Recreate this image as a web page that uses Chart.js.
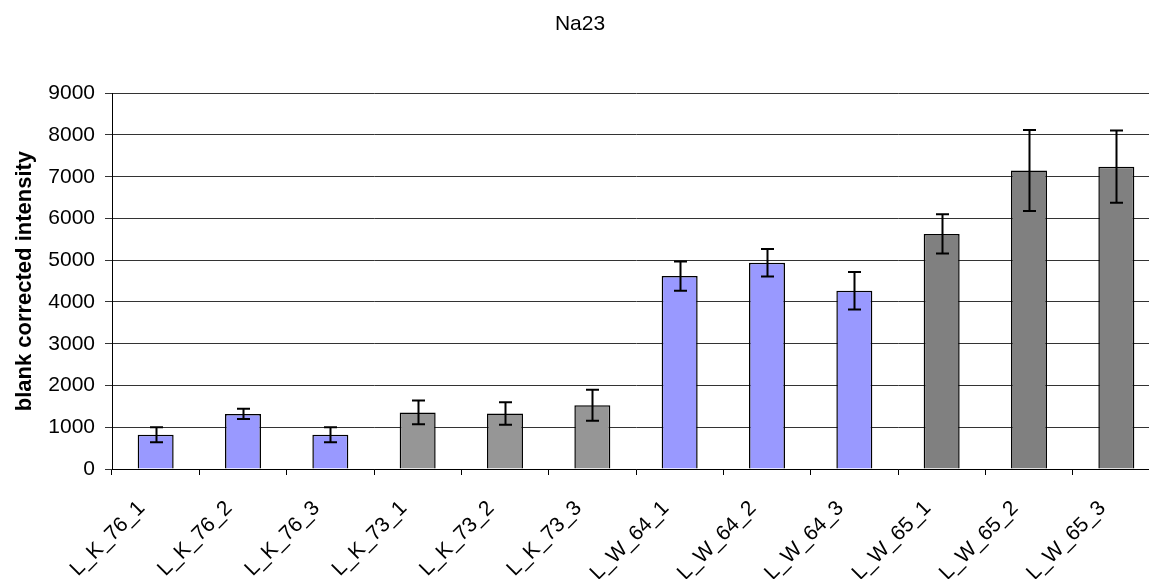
<!DOCTYPE html>
<html>
<head>
<meta charset="utf-8">
<title>Na23</title>
<script src="https://cdn.jsdelivr.net/npm/chart.js@4.4.1/dist/chart.umd.min.js"></script>
<style>
  html, body { margin: 0; padding: 0; background: #fff; overflow: hidden; }
  #wrap { width: 1160px; height: 620px; }
</style>
</head>
<body>
<div id="wrap"><canvas id="c" width="1160" height="620"></canvas></div>
<script>
// Samples, mean intensities and their standard deviations
const categories = ['L_K_76_1', 'L_K_76_2', 'L_K_76_3', 'L_K_73_1', 'L_K_73_2', 'L_K_73_3',
                    'L_W_64_1', 'L_W_64_2', 'L_W_64_3', 'L_W_65_1', 'L_W_65_2', 'L_W_65_3'];
const intensity = [820, 1320, 820, 1355, 1330, 1525, 4620, 4940, 4270, 5630, 7150, 7240];
const deviation = [180, 125, 180, 285, 270, 370, 350, 330, 450, 470, 970, 865];
const yTicks = [0, 1000, 2000, 3000, 4000, 5000, 6000, 7000, 8000, 9000];

// Fill colour for each sample series
const palette = {
  'L_K_76': '#9999FF',
  'L_K_73': '#969696',
  'L_W_64': '#9999FF',
  'L_W_65': '#808080'
};
const seriesOf = label => label.slice(0, label.lastIndexOf('_'));

const FONT = '"Liberation Sans", Arial, sans-serif';

// Vertical error bars with caps, drawn on top of each bar
const errorBars = {
  id: 'errorBars',
  afterDatasetsDraw(chart) {
    const { ctx, scales: { y } } = chart;
    const meta = chart.getDatasetMeta(0);
    ctx.save();
    ctx.strokeStyle = '#000';
    ctx.lineWidth = 2;
    meta.data.forEach((bar, i) => {
      const v = intensity[i], e = deviation[i];
      const top = y.getPixelForValue(v + e);
      const bot = y.getPixelForValue(v - e);
      const x = Math.round(bar.x) + 0.5;
      const cap = 6.5;
      ctx.beginPath();
      ctx.moveTo(x, top); ctx.lineTo(x, bot);
      ctx.moveTo(x - cap, top); ctx.lineTo(x + cap, top);
      ctx.moveTo(x - cap, bot); ctx.lineTo(x + cap, bot);
      ctx.stroke();
    });
    ctx.restore();
  }
};

new Chart(document.getElementById('c'), {
  type: 'bar',
  data: {
    labels: categories,
    datasets: [{
      data: intensity,
      backgroundColor: ctx => palette[seriesOf(categories[ctx.dataIndex])],
      borderColor: '#000',
      borderWidth: 1.5,
      categoryPercentage: 1,
      barPercentage: 0.412
    }]
  },
  options: {
    responsive: false,
    animation: false,
    devicePixelRatio: 1,
    layout: { padding: { left: 0, right: 0, top: 0, bottom: 0 } },
    plugins: {
      legend: { display: false },
      tooltip: { enabled: false },
      title: {
        display: true,
        text: 'Na23',
        color: '#000',
        font: { family: FONT, size: 21, weight: 'normal' },
        padding: { top: 12, bottom: 56 }
      }
    },
    scales: {
      x: {
        grid: { drawOnChartArea: false, drawTicks: true, tickLength: 6, color: '#000', offset: true },
        border: { color: '#000', width: 1 },
        ticks: {
          color: '#000',
          font: { family: FONT, size: 21 },
          minRotation: 45,
          maxRotation: 45,
          autoSkip: false,
          padding: 21,
          labelOffset: -14
        },
        afterFit(scale) { scale.height = 620 - 469; }
      },
      y: {
        min: 0,
        max: 9000,
        afterBuildTicks(scale) { scale.ticks = yTicks.map(v => ({ value: v })); },
        grid: { color: '#333', lineWidth: 1, tickLength: 7, drawTicks: true },
        border: { color: '#000', width: 1 },
        ticks: {
          color: '#000',
          font: { family: FONT, size: 21 },
          padding: 10,
          callback: v => String(v)
        },
        title: {
          display: true,
          text: 'blank corrected intensity',
          color: '#000',
          font: { family: FONT, size: 22, weight: 'bold' },
          padding: { top: 12, bottom: 0 }
        },
        afterFit(scale) { scale.width = 112; }
      }
    }
  },
  plugins: [errorBars]
});
</script>
</body>
</html>
